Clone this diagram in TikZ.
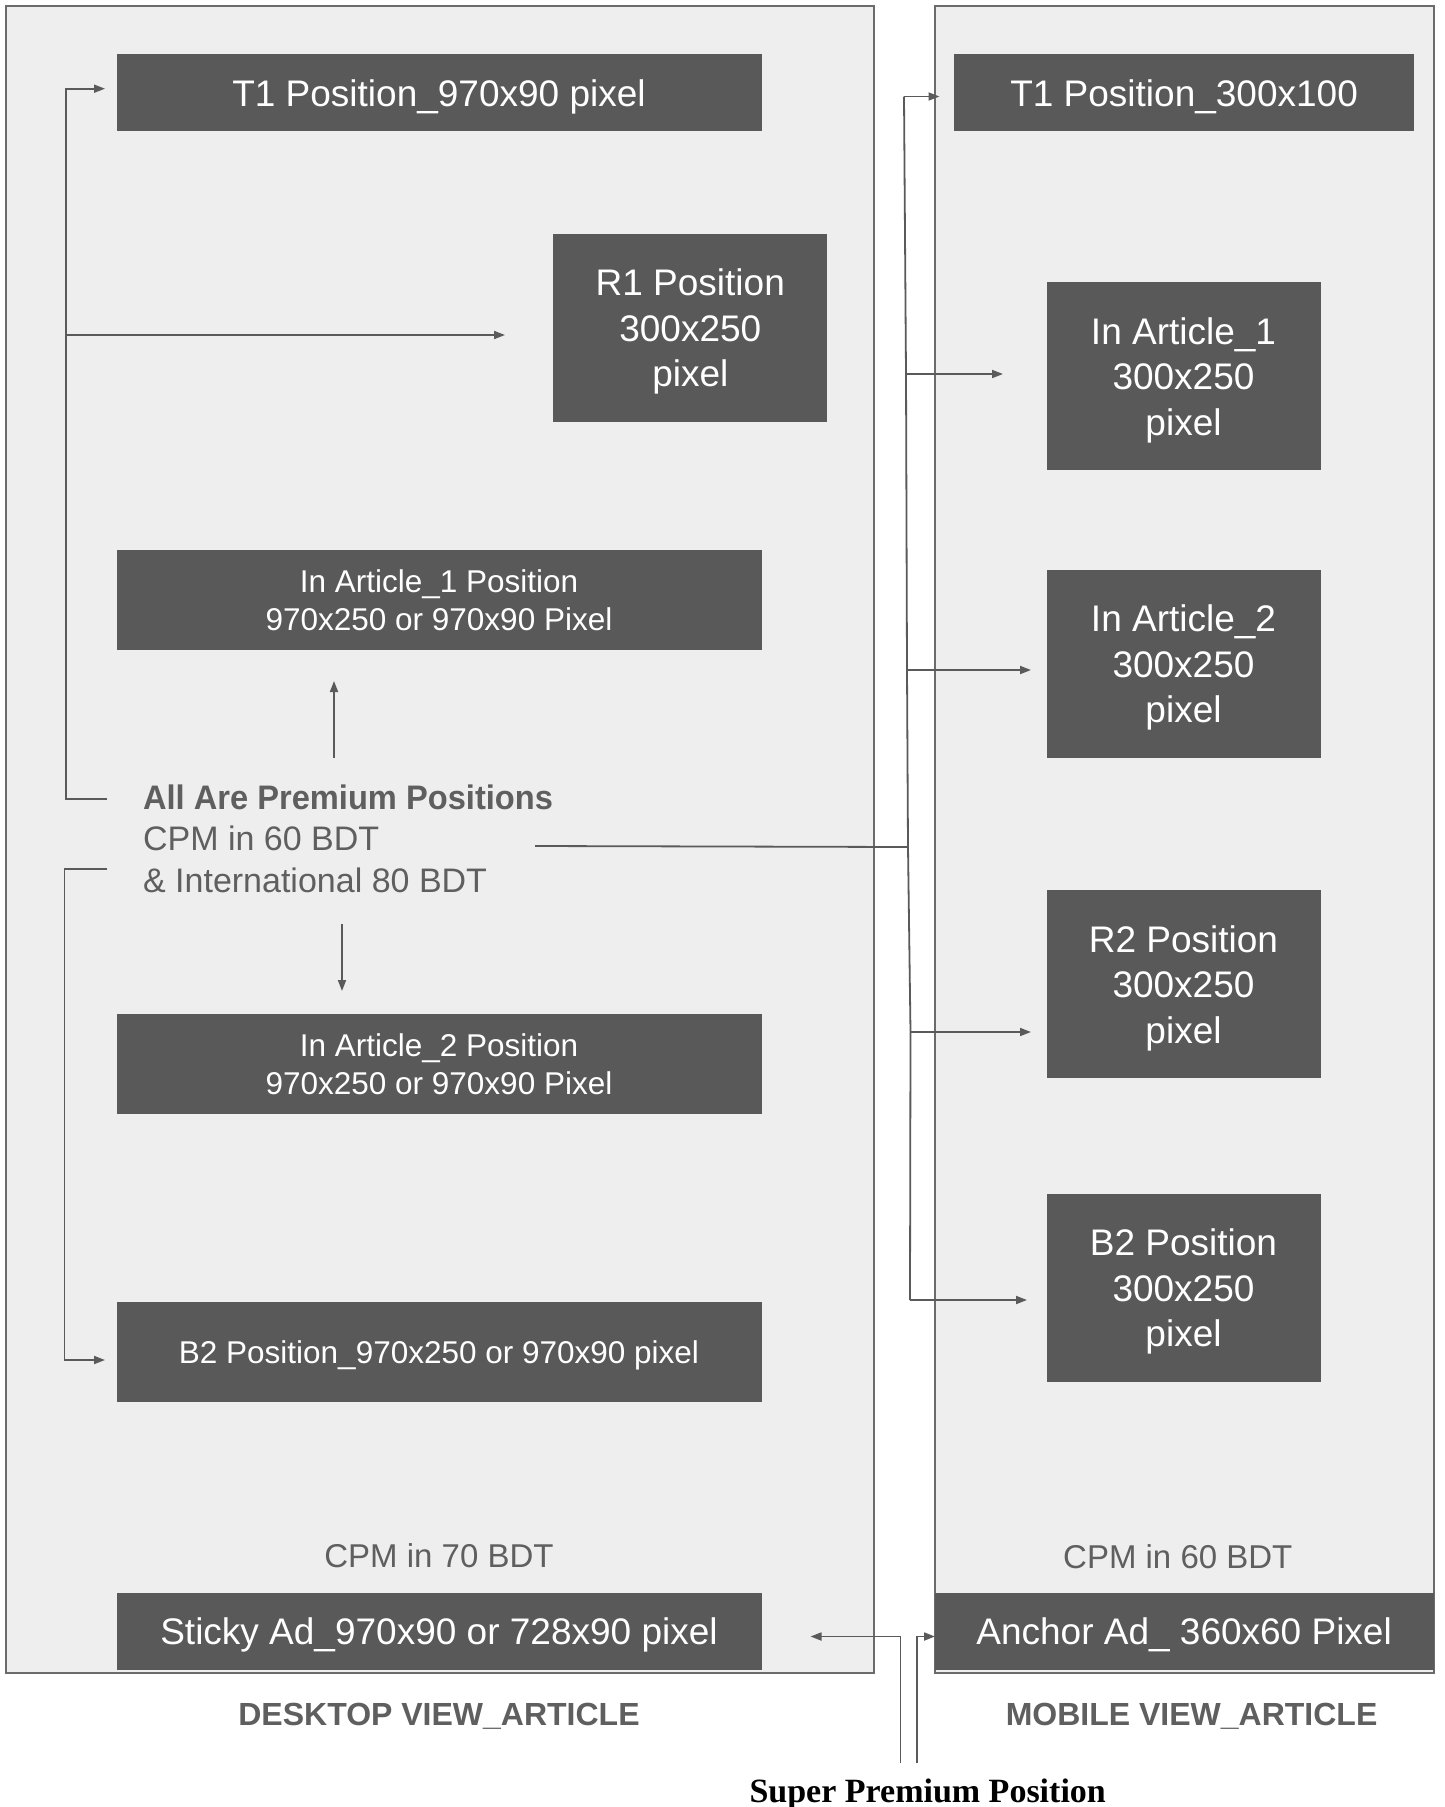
\documentclass[tikz,border=0pt]{standalone}
\usepackage{fontspec}
\setmainfont{Liberation Sans}
\newfontfamily\headserif{Liberation Serif}
\usetikzlibrary{arrows.meta}
\definecolor{boxgray}{HTML}{595959}
\definecolor{panelfill}{HTML}{EEEEEE}
\definecolor{panelline}{HTML}{6B6B6B}
\definecolor{txtgray}{HTML}{5F5F5F}
\definecolor{linegray}{HTML}{5A5A5A}
\begin{document}
\begin{tikzpicture}[x=1pt,y=-1pt,
  panel/.style={draw=panelline,fill=panelfill,line width=2pt,inner sep=0pt},
  adbox/.style={fill=boxgray,text=white,inner sep=0pt,align=center},
  bigtxt/.style={font=\fontsize{37}{45.5}\selectfont,text depth=0pt},
  smalltxt/.style={font=\fontsize{31.5}{38}\selectfont},
  widebox/.style={minimum width=645pt},
  squarebox/.style={minimum width=274pt,minimum height=188pt},
  graytxt/.style={text=txtgray,inner sep=0pt},
  conn/.style={draw=linegray,line width=1.8pt},
  arr/.style={conn,-{Triangle[length=11pt,width=8pt]}},
  ]
\useasboundingbox (0,0) rectangle (1444,1807);
\fill[white] (0,0) rectangle (1444,1807);

% panels
\node[panel,minimum width=868pt,minimum height=1667pt] (deskpanel) at (440,839.5) {};
\node[panel,minimum width=499pt,minimum height=1667pt] (mobpanel) at (1184.5,839.5) {};

% desktop boxes
\node[adbox,bigtxt,widebox,minimum height=77pt] (T1d) at (439,92.8) {T1 Position\_970x90 pixel};
\node[adbox,bigtxt,squarebox] (R1d) at (690.3,327.9) {R1 Position\\300x250\\pixel};
\node[adbox,smalltxt,widebox,minimum height=100pt] (IA1d) at (439,599.9) {In Article\_1 Position\\970x250 or 970x90 Pixel};
\node[adbox,smalltxt,widebox,minimum height=100pt] (IA2d) at (439,1064.3) {In Article\_2 Position\\970x250 or 970x90 Pixel};
\node[adbox,smalltxt,widebox,minimum height=100pt,text depth=0pt] (B2d) at (439,1352.4) {B2 Position\_970x250 or 970x90 pixel};
\node[graytxt,font=\fontsize{33}{40}\selectfont] (cpmd) at (439,1555.7) {CPM in 70 BDT};
\node[adbox,bigtxt,widebox,minimum height=77pt] (stickyd) at (439,1631.2) {Sticky Ad\_970x90 or 728x90 pixel};
\node[graytxt,font=\bfseries\fontsize{32}{38}\selectfont] (desklabel) at (439,1716) {DESKTOP VIEW\_ARTICLE};

% premium text
\node[graytxt,anchor=west,align=left,font=\fontsize{34}{41.5}\selectfont] (prem) at (142.9,838.5) {\scalebox{0.96}[1]{\textbf{All Are Premium Positions}}\\CPM in 60 BDT\\\& International 80 BDT};

% mobile boxes
\node[adbox,bigtxt,minimum width=460pt,minimum height=77pt] (T1m) at (1184.1,92.8) {T1 Position\_300x100};
\node[adbox,bigtxt,squarebox] (IA1m) at (1183.5,376.3) {In Article\_1\\300x250\\pixel};
\node[adbox,bigtxt,squarebox] (IA2m) at (1183.5,663.8) {In Article\_2\\300x250\\pixel};
\node[adbox,bigtxt,squarebox] (R2m) at (1183.5,984.2) {R2 Position\\300x250\\pixel};
\node[adbox,bigtxt,squarebox] (B2m) at (1183.5,1287.8) {B2 Position\\300x250\\pixel};
\node[graytxt,font=\fontsize{33}{40}\selectfont] (cpmm) at (1177.8,1557) {CPM in 60 BDT};
\node[adbox,bigtxt,minimum width=499pt,minimum height=77pt] (anchorm) at (1184.1,1631.2) {Anchor Ad\_ 360x60 Pixel};
\node[graytxt,font=\bfseries\fontsize{32}{38}\selectfont] (moblabel) at (1191.6,1716) {MOBILE VIEW\_ARTICLE};

% super premium label
\node[inner sep=0pt,anchor=base,font=\headserif\bfseries\fontsize{34}{40}\selectfont] (super) at (927.7,1802) {Super Premium Position};

% desktop connectors
\coordinate (b1start) at (107,798.6);
\coordinate (b1corner) at (65.7,798.6);
\coordinate (b1top) at (65.7,88.7);
\coordinate (t1dtip) at (105,88.7);
\coordinate (r1from) at (65.7,335);
\coordinate (r1dtip) at (505,335);
\draw[arr] (b1start) -- (b1corner) -- (b1top) -- (t1dtip);
\draw[arr] (r1from) -- (r1dtip);

\coordinate (b2start) at (107,869);
\coordinate (b2corner) at (64.5,869);
\coordinate (b2bot) at (64.5,1360);
\coordinate (b2dtip) at (105,1360);
\draw[arr] (b2start) -- (b2corner) -- (b2bot) -- (b2dtip);

\coordinate (upfrom) at (334,758);
\coordinate (uptip) at (334,681);
\draw[arr] (upfrom) -- (uptip);
\coordinate (downfrom) at (342,924);
\coordinate (downtip) at (342,991);
\draw[arr] (downfrom) -- (downtip);

% bus to mobile
\coordinate (premout) at (535,846);
\coordinate (busT1) at (904,96.5);
\coordinate (busIA1) at (906,374);
\coordinate (busIA2) at (907,670);
\coordinate (busprem) at (908,847);
\coordinate (busR2) at (910.5,1032);
\coordinate (busB2) at (910,1300);
\draw[conn] (premout) -- (busprem);
\draw[conn] (busT1) -- (busIA1) -- (busIA2) -- (busprem) -- (busR2) -- (busB2);
\coordinate (t1mtip) at (939.5,96.5);
\coordinate (ia1mtip) at (1003,374);
\coordinate (ia2mtip) at (1031,670);
\coordinate (r2mtip) at (1031,1032);
\coordinate (b2mtip) at (1027,1300);
\draw[arr] (busT1) -- (t1mtip);
\draw[arr] (busIA1) -- (ia1mtip);
\draw[arr] (busIA2) -- (ia2mtip);
\draw[arr] (busR2) -- (r2mtip);
\draw[arr] (busB2) -- (b2mtip);

% super premium arrows
\coordinate (spl) at (900.5,1763);
\coordinate (splc) at (900.5,1636.5);
\coordinate (spltip) at (810.5,1636.5);
\coordinate (spr) at (917,1763);
\coordinate (sprc) at (917,1636.5);
\coordinate (sprtip) at (935,1636.5);
\draw[arr] (spl) -- (splc) -- (spltip);
\draw[arr] (spr) -- (sprc) -- (sprtip);
\end{tikzpicture}
\end{document}
